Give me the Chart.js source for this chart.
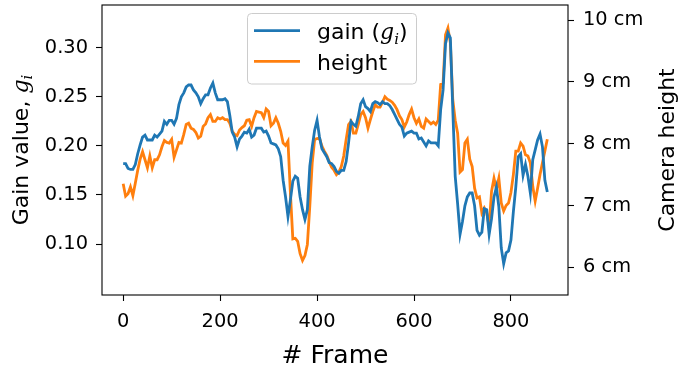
<!DOCTYPE html>
<html>
<head>
<meta charset="utf-8">
<script src="https://cdn.jsdelivr.net/npm/chart.js@4.4.1/dist/chart.umd.min.js"></script>
<style>
    html, body { margin: 0; padding: 0; background: #ffffff; }
    #wrap { width: 680px; height: 372px; }
</style>
</head>
<body>
<div id="wrap"><canvas id="gainChart" width="680" height="372"></canvas></div>
<script>
"use strict";

const frames = [
    0, 5, 10, 15, 20, 25, 30, 35, 40, 45, 50, 55, 60, 65, 70, 75, 80, 85, 90, 95,
    100, 105, 110, 115, 120, 125, 130, 135, 140, 145, 150, 155, 160, 165, 170, 175, 180, 185, 190, 195,
    200, 205, 210, 215, 220, 225, 230, 235, 240, 245, 250, 255, 260, 265, 270, 275, 280, 285, 290, 295,
    300, 305, 310, 315, 320, 325, 330, 335, 340, 345, 350, 355, 360, 365, 370, 375, 380, 385, 390, 395,
    400, 405, 410, 415, 420, 425, 430, 435, 440, 445, 450, 455, 460, 465, 470, 475, 480, 485, 490, 495,
    500, 505, 510, 515, 520, 525, 530, 535, 540, 545, 550, 555, 560, 565, 570, 575, 580, 585, 590, 595,
    600, 605, 610, 615, 620, 625, 630, 635, 640, 645, 650, 655, 660, 665, 670, 675, 680, 685, 690, 695,
    700, 705, 710, 715, 720, 725, 730, 735, 740, 745, 750, 755, 760, 765, 770, 775, 780, 785, 790, 795,
    800, 805, 810, 815, 820, 825, 830, 835, 840, 845, 850, 855, 860, 865, 870, 875
];

// Gain value g_i per frame (left axis)
const gainValues = [
    0.182, 0.182, 0.177, 0.176, 0.176, 0.181, 0.192, 0.201, 0.209, 0.211,
    0.206, 0.206, 0.206, 0.211, 0.209, 0.212, 0.215, 0.225, 0.222, 0.226,
    0.226, 0.222, 0.228, 0.242, 0.250, 0.254, 0.260, 0.262, 0.262, 0.257,
    0.254, 0.250, 0.243, 0.248, 0.252, 0.252, 0.259, 0.264, 0.254, 0.247,
    0.247, 0.247, 0.248, 0.245, 0.231, 0.214, 0.209, 0.199, 0.207, 0.210,
    0.214, 0.213, 0.217, 0.209, 0.211, 0.218, 0.218, 0.218, 0.214, 0.215,
    0.210, 0.203, 0.202, 0.201, 0.197, 0.189, 0.165, 0.148, 0.128, 0.145,
    0.164, 0.169, 0.167, 0.148, 0.135, 0.125, 0.135, 0.179, 0.199, 0.216,
    0.226, 0.209, 0.197, 0.193, 0.189, 0.183, 0.182, 0.179, 0.174, 0.172,
    0.175, 0.175, 0.184, 0.203, 0.225, 0.222, 0.220, 0.230, 0.243, 0.247,
    0.240, 0.238, 0.235, 0.243, 0.245, 0.244, 0.242, 0.245, 0.243, 0.243,
    0.241, 0.237, 0.232, 0.227, 0.222, 0.219, 0.210, 0.213, 0.214, 0.215,
    0.213, 0.213, 0.207, 0.208, 0.204, 0.200, 0.205, 0.203, 0.203, 0.203,
    0.200, 0.237, 0.257, 0.304, 0.315, 0.310, 0.237, 0.169, 0.141, 0.110,
    0.123, 0.139, 0.148, 0.152, 0.152, 0.139, 0.114, 0.109, 0.112, 0.136,
    0.135, 0.110, 0.126, 0.148, 0.158, 0.138, 0.096, 0.080, 0.091, 0.093,
    0.104, 0.133, 0.158, 0.189, 0.192, 0.170, 0.181, 0.169, 0.152, 0.186,
    0.196, 0.206, 0.212, 0.199, 0.165, 0.153
];

// Camera height in cm per frame (right axis)
const heightValues = [
    7.35, 7.15, 7.19, 7.30, 7.16, 7.36, 7.57, 7.75, 7.87, 7.74,
    7.61, 7.80, 7.61, 7.74, 7.74, 7.82, 7.95, 8.05, 8.02, 8.01,
    8.07, 7.78, 7.90, 8.02, 8.01, 8.15, 8.31, 8.33, 8.25, 8.23,
    8.18, 8.09, 8.12, 8.28, 8.32, 8.42, 8.47, 8.36, 8.36, 8.42,
    8.40, 8.42, 8.39, 8.39, 8.33, 8.20, 8.15, 8.13, 8.22, 8.26,
    8.29, 8.38, 8.39, 8.28, 8.42, 8.52, 8.51, 8.50, 8.42, 8.56,
    8.52, 8.29, 8.33, 8.42, 8.33, 8.20, 8.01, 7.97, 8.04, 7.20,
    6.46, 6.47, 6.42, 6.22, 6.11, 6.19, 6.37, 6.99, 7.69, 8.07,
    8.08, 8.09, 7.96, 7.88, 7.81, 7.71, 7.62, 7.57, 7.50, 7.54,
    7.63, 7.80, 8.07, 8.31, 8.36, 8.17, 8.17, 8.31, 8.47, 8.52,
    8.42, 8.25, 8.39, 8.52, 8.63, 8.59, 8.59, 8.67, 8.76, 8.72,
    8.70, 8.67, 8.62, 8.55, 8.45, 8.39, 8.27, 8.35, 8.47, 8.56,
    8.42, 8.33, 8.40, 8.28, 8.25, 8.40, 8.36, 8.32, 8.35, 8.31,
    8.38, 8.96, 8.98, 9.76, 9.87, 9.63, 8.71, 8.38, 8.17, 7.54,
    7.58, 8.01, 8.07, 7.75, 7.63, 7.28, 7.12, 7.14, 6.88, 6.96,
    6.88, 6.66, 7.23, 7.44, 7.26, 7.44, 7.04, 6.91, 7.00, 7.04,
    7.21, 7.50, 7.88, 7.88, 8.01, 7.96, 7.82, 7.80, 7.69, 7.31,
    7.07, 7.28, 7.50, 7.69, 7.88, 8.07
];

// Tick labels
const frameTicks = [0, 200, 400, 600, 800];
const gainTicks = [0.10, 0.15, 0.20, 0.25, 0.30];
const heightTicks = [6, 7, 8, 9, 10];

const BLUE = '#1f77b4';
const ORANGE = '#ff7f0e';
const SANS = "'DejaVu Sans', sans-serif";
const SERIF = "'DejaVu Serif', serif";

// Draws a row of text pieces (plain text, italic letter, subscript) one after the other
function drawPieces(ctx, pieces, x, y) {
    pieces.forEach(function (p) {
        ctx.font = p.font;
        ctx.fillText(p.text, x, y + (p.dy || 0));
        x += ctx.measureText(p.text).width;
    });
}

function piecesWidth(ctx, pieces) {
    let w = 0;
    pieces.forEach(function (p) {
        ctx.font = p.font;
        w += ctx.measureText(p.text).width;
    });
    return w;
}

function mathG(size) {
    return [
        { text: 'g', font: 'italic ' + size + 'px ' + SERIF },
        { text: 'i', font: 'italic ' + Math.round(size * 0.7) + 'px ' + SERIF, dy: size * 0.2 }
    ];
}

// Frame, rotated axis titles and the legend box, drawn over the plot like matplotlib does
const overlay = {
    id: 'overlay',
    afterDatasetsDraw(chart) {
        const ctx = chart.ctx;
        const a = chart.chartArea;
        ctx.save();

        ctx.strokeStyle = '#000000';
        ctx.lineWidth = 1.1;
        ctx.strokeRect(a.left, a.top, a.right - a.left, a.bottom - a.top);

        ctx.fillStyle = '#000000';
        ctx.textBaseline = 'alphabetic';
        ctx.textAlign = 'left';

        // left axis title: "Gain value, g_i"
        const leftTitle = [{ text: 'Gain value, ', font: '22px ' + SANS }].concat(mathG(22));
        ctx.save();
        ctx.translate(28, (a.top + a.bottom) / 2);
        ctx.rotate(-Math.PI / 2);
        drawPieces(ctx, leftTitle, -piecesWidth(ctx, leftTitle) / 2, 0);
        ctx.restore();

        // right axis title
        const rightTitle = [{ text: 'Camera height', font: '22px ' + SANS }];
        ctx.save();
        ctx.translate(674, (a.top + a.bottom) / 2);
        ctx.rotate(-Math.PI / 2);
        drawPieces(ctx, rightTitle, -piecesWidth(ctx, rightTitle) / 2, 0);
        ctx.restore();

        // legend
        const box = { x: 247.5, y: 13.5, w: 169, h: 70.5 };
        ctx.beginPath();
        ctx.roundRect(box.x, box.y, box.w, box.h, 4);
        ctx.fillStyle = 'rgba(255,255,255,0.8)';
        ctx.fill();
        ctx.strokeStyle = '#cccccc';
        ctx.lineWidth = 1;
        ctx.stroke();

        const rows = [
            { color: BLUE, y: 30.7, label: [{ text: 'gain (', font: '22px ' + SANS }].concat(mathG(22), [{ text: ')', font: '22px ' + SANS }]) },
            { color: ORANGE, y: 61.3, label: [{ text: 'height', font: '22px ' + SANS }] }
        ];
        rows.forEach(function (r) {
            ctx.beginPath();
            ctx.moveTo(254, r.y);
            ctx.lineTo(300, r.y);
            ctx.strokeStyle = r.color;
            ctx.lineWidth = 2.8;
            ctx.stroke();
            ctx.fillStyle = '#000000';
            drawPieces(ctx, r.label, 317, r.y + 8.5);
        });

        ctx.restore();
    }
};

function points(values) {
    return frames.map(function (f, i) {
        return { x: f, y: values[i] };
    });
}

const tickFont = { family: SANS, size: 19.4 };

new Chart(document.getElementById('gainChart'), {
    type: 'line',
    data: {
        datasets: [
            {
                label: 'gain',
                data: points(gainValues),
                yAxisID: 'y',
                borderColor: BLUE,
                borderWidth: 2.8,
                pointRadius: 0,
                tension: 0
            },
            {
                label: 'height',
                data: points(heightValues),
                yAxisID: 'y2',
                borderColor: ORANGE,
                borderWidth: 2.8,
                pointRadius: 0,
                tension: 0
            }
        ]
    },
    options: {
        responsive: false,
        animation: false,
        layout: { padding: { top: 5, left: 0, right: 0, bottom: 0 } },
        plugins: {
            legend: { display: false },
            tooltip: { enabled: false }
        },
        scales: {
            x: {
                type: 'linear',
                min: -43.7,
                max: 917.7,
                afterBuildTicks: (scale) => { scale.ticks = frameTicks.map(v => ({ value: v })); },
                afterFit: (scale) => { scale.height = 77; scale.paddingLeft = 0; scale.paddingRight = 0; },
                grid: { display: true, drawOnChartArea: false, drawTicks: true, tickLength: 6, tickColor: '#000000', tickWidth: 1.1 },
                border: { display: false },
                ticks: { font: tickFont, color: '#000000', padding: 9, maxRotation: 0 },
                title: { display: true, text: '# Frame', font: { family: SANS, size: 25 }, color: '#000000', padding: { top: 0, bottom: 1 } }
            },
            y: {
                position: 'left',
                min: 0.0481,
                max: 0.3435,
                afterBuildTicks: (scale) => { scale.ticks = gainTicks.map(v => ({ value: v })); },
                afterFit: (scale) => { scale.width = 102; scale.paddingTop = 0; scale.paddingBottom = 0; },
                grid: { display: true, drawOnChartArea: false, drawTicks: true, tickLength: 6, tickColor: '#000000', tickWidth: 1.1 },
                border: { display: false },
                ticks: { font: tickFont, color: '#000000', padding: 8, callback: (v) => v.toFixed(2) }
            },
            y2: {
                position: 'right',
                min: 5.552,
                max: 10.243,
                afterBuildTicks: (scale) => { scale.ticks = heightTicks.map(v => ({ value: v })); },
                afterFit: (scale) => { scale.width = 112; scale.paddingTop = 0; scale.paddingBottom = 0; },
                grid: { display: true, drawOnChartArea: false, drawTicks: true, tickLength: 6, tickColor: '#000000', tickWidth: 1.1 },
                border: { display: false },
                ticks: { font: tickFont, color: '#000000', padding: 9, callback: (v) => v + ' cm' }
            }
        }
    },
    plugins: [overlay]
});
</script>
</body>
</html>
